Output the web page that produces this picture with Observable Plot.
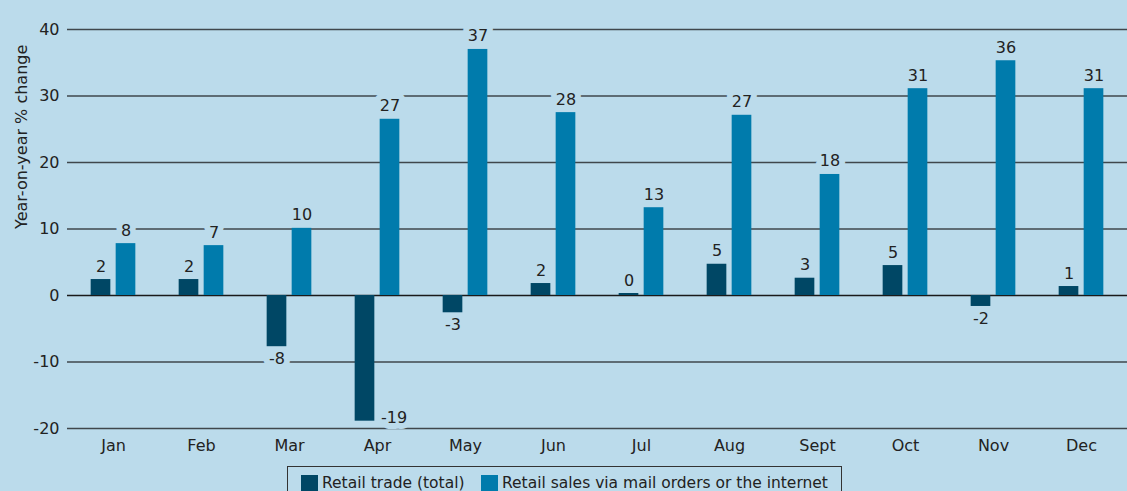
<!DOCTYPE html>
<html>
<head>
<meta charset="utf-8">
<script src="https://cdn.jsdelivr.net/npm/d3@7"></script>
<script src="https://cdn.jsdelivr.net/npm/@observablehq/plot@0.6"></script>
<style>
  html, body { margin: 0; padding: 0; background: #bbdbeb; }
  body { width: 1127px; height: 491px; overflow: hidden; position: relative; font-family: "DejaVu Sans", sans-serif; color: #222; }
  #legend { position: absolute; left: 287px; top: 466px; width: 555px; height: 40px; border: 1px solid #333; box-sizing: border-box; font-size: 15.5px; }
  .item { position: absolute; top: 7px; display: flex; align-items: center; white-space: nowrap; }
  .sw { width: 17px; height: 17px; margin-right: 4px; display: inline-block; }
</style>
</head>
<body>
<div id="chart"></div>
<div id="legend"></div>
<script>
const months = ["Jan", "Feb", "Mar", "Apr", "May", "Jun", "Jul", "Aug", "Sept", "Oct", "Nov", "Dec"];
const retailTotal = [2.4, 2.4, -7.7, -18.9, -2.6, 1.8, 0.3, 4.7, 2.6, 4.5, -1.65, 1.35];
const mailInternet = [7.8, 7.5, 10.1, 26.5, 37.0, 27.5, 13.2, 27.1, 18.2, 31.1, 35.3, 31.1];
const retailLabels = [2, 2, -8, -19, -3, 2, 0, 5, 3, 5, -2, 1];
const mailLabels = [8, 7, 10, 27, 37, 28, 13, 27, 18, 31, 36, 31];
const yTicks = [-20, -10, 0, 10, 20, 30, 40];
const seriesNames = ["Retail trade (total)", "Retail sales via mail orders or the internet"];
const colors = ["#004765", "#007bac"];
const bg = "#bbdbeb";

const dark = months.map((m, i) => ({month: m, value: retailTotal[i], label: String(retailLabels[i])}));
const light = months.map((m, i) => ({month: m, value: mailInternet[i], label: String(mailLabels[i])}));
const darkPos = dark.filter(d => d.value >= 0);
const darkNeg = dark.filter(d => d.value < 0 && d.value > -15);
const darkLow = dark.filter(d => d.value <= -15);

const off = 12.5;
const step = 1060 / 12;
const font = "DejaVu Sans, sans-serif";
const labelStyle = {fill: "#222", stroke: bg, strokeWidth: 12, fontSize: 16};
const chart = Plot.plot({
  width: 1127,
  height: 460,
  marginLeft: 67,
  marginRight: 0,
  marginTop: 29,
  marginBottom: 32,
  style: {background: bg, fontFamily: font, fontSize: "16px", color: "#222"},
  x: {domain: months, padding: 0, label: null, tickSize: 0, tickPadding: 11},
  y: {domain: [-20, 40], ticks: yTicks, label: null, tickSize: 0, tickPadding: 8, tickFormat: d => String(d)},
  marks: [
    Plot.ruleY(yTicks.filter(t => t !== 0), {stroke: "#3f474c", strokeWidth: 1.6}),
    Plot.ruleY([0], {stroke: "#1a1a1a", strokeWidth: 1.6}),
    Plot.axisY({ticks: yTicks, tickSize: 0, tickPadding: 8, tickFormat: d => String(d), fontSize: 16, fill: "#222", label: null}),
    Plot.text(["Year-on-year % change"], {frameAnchor: "left", dx: -46, rotate: -90, fontSize: 16, fill: "#222"}),
    Plot.text(darkPos, {x: "month", y: "value", text: "label", dx: -off, dy: -8, lineAnchor: "bottom", ...labelStyle}),
    Plot.text(darkNeg, {x: "month", y: "value", text: "label", dx: -off, dy: 6, lineAnchor: "top", ...labelStyle}),
    Plot.text(darkLow, {x: "month", y: "value", text: "label", dx: -off + 16, dy: 2, textAnchor: "start", lineAnchor: "bottom", ...labelStyle}),
    Plot.text(light, {x: "month", y: "value", text: "label", dx: off, dy: -8, lineAnchor: "bottom", ...labelStyle}),
    Plot.barY(dark, {x: "month", y: "value", fill: colors[0], insetLeft: step / 2 - off - 10, insetRight: step / 2 + off - 10}),
    Plot.barY(light, {x: "month", y: "value", fill: colors[1], insetLeft: step / 2 + off - 10, insetRight: step / 2 - off - 10})
  ]
});
document.getElementById("chart").appendChild(chart);

const legend = document.getElementById("legend");
const lefts = [13, 193];
seriesNames.forEach((name, i) => {
  const item = document.createElement("div");
  item.className = "item";
  item.style.left = lefts[i] + "px";
  const sw = document.createElement("span");
  sw.className = "sw";
  sw.style.background = colors[i];
  item.appendChild(sw);
  item.appendChild(document.createTextNode(name));
  legend.appendChild(item);
});
</script>
</body>
</html>
